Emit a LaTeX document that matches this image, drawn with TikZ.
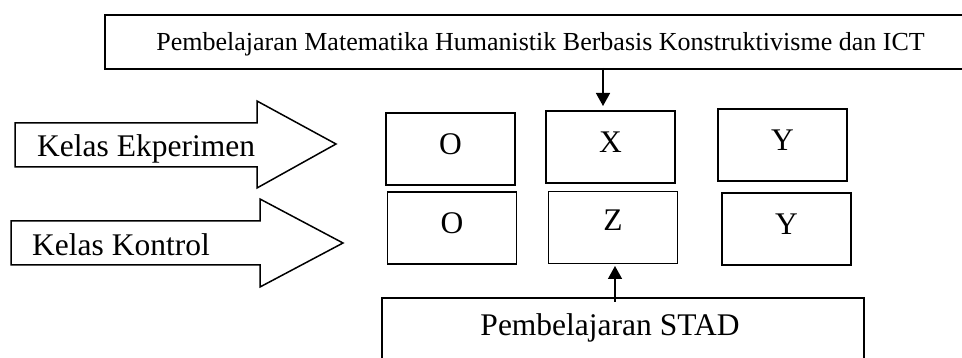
\documentclass[tikz,border=0pt]{standalone}
\usepackage{fontspec}
\setmainfont{Liberation Serif}
\usetikzlibrary{arrows.meta}
\begin{document}
\begin{tikzpicture}[x=1pt,y=-1pt,
  lw/.style={line width=1.5pt},
  big/.style={font=\fontsize{31.5}{36}\selectfont},
  small/.style={font=\fontsize{26}{30}\selectfont},
  cell/.style={draw,lw,big,minimum width=129pt,minimum height=72pt,inner sep=0pt,text height=21pt,text depth=10pt},
  blockarrow/.style={draw,lw,fill=white},
  conn/.style={lw,-{Triangle[length=13pt,width=14pt]}}]
\useasboundingbox (0,0) rectangle (962,358);
\clip (0,0) rectangle (962,358);
% top box
\node[draw,line width=1.8pt,minimum width=873pt,minimum height=54pt,inner sep=0pt,anchor=north west] (top) at (104,14) {};
\node[small,anchor=base] (toptxt) at (540.5,51) {Pembelajaran Matematika Humanistik Berbasis Konstruktivisme dan ICT};
% bottom box
\node[draw,line width=1.7pt,minimum width=482pt,minimum height=90pt,inner sep=0pt,anchor=north west] (stad) at (381,297) {};
\node[big,anchor=base] (stadtxt) at (610,335) {Pembelajaran STAD};
% block arrows
\draw[blockarrow] (15,123) -- (257,123) -- (257,101) -- (336,144) -- (257,188) -- (257,167) -- (15,167) -- cycle;
\node[big,anchor=base west,inner sep=0pt] (eksp) at (37,157) {Kelas Ekperimen};
\draw[blockarrow] (11,221) -- (260,221) -- (260,199) -- (343,243) -- (260,287) -- (260,265) -- (11,265) -- cycle;
\node[big,anchor=base west,inner sep=0pt] (kont) at (32,256) {Kelas Kontrol};
% cells
\node[cell] (o1) at (450.5,149) {O};
\node[cell] (x) at (610.5,147) {X};
\node[cell] (y1) at (782.5,145) {Y};
\node[cell] (o2) at (452,228) {O};
\node[cell,text depth=14pt] (z) at (613,227.5) {Z};
\node[cell] (y2) at (786.5,229) {Y};
% connectors
\coordinate (a1) at (603,68);
\coordinate (a2) at (603,106);
\draw[conn] (a1) -- (a2);
\coordinate (b1) at (615,302);
\coordinate (b2) at (615,266);
\draw[conn] (b1) -- (b2);
\end{tikzpicture}
\end{document}
